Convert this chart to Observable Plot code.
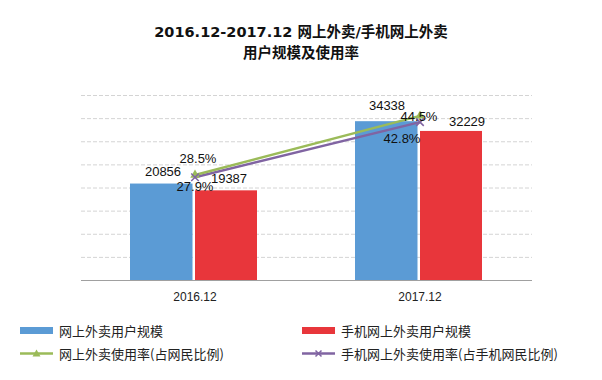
<!DOCTYPE html>
<html>
<head>
<meta charset="utf-8">
<script src="https://cdn.jsdelivr.net/npm/d3@7"></script>
<script src="https://cdn.jsdelivr.net/npm/@observablehq/plot@0.6"></script>
<style>
  html, body { margin: 0; padding: 0; background: #fff; }
  body { width: 602px; height: 380px; overflow: hidden; position: relative; font-family: "Liberation Sans", Arial, sans-serif; }
  #title { height: 62px; box-sizing: border-box; padding-top: 21px; text-align: center; font-family: "DejaVu Sans", "Noto Sans CJK SC", sans-serif; font-weight: bold; font-size: 14.5px; line-height: 19px; color: #111; }
  #title .cjk { font-family: "Noto Sans CJK SC", sans-serif; }
  #chart { height: 250px; }
  #chart svg { display: block; }
  #legend { position: relative; height: 68px; font-family: "Noto Sans CJK SC", sans-serif; font-size: 13px; color: #222; }
  .item { position: absolute; display: flex; align-items: center; height: 16px; }
  .item svg { display: block; margin-right: 6px; }
</style>
</head>
<body>
<div id="title">2016.12-2017.12 <span class="cjk">网上外卖</span>/<span class="cjk">手机网上外卖</span><br><span class="cjk">用户规模及使用率</span></div>
<div id="chart"></div>
<div id="legend"></div>
<script>
// ---- data ----
const categories = ["2016.12", "2017.12"];
const users = [20856, 34338];          // 网上外卖用户规模（万）
const mobileUsers = [19387, 32229];    // 手机网上外卖用户规模（万）
const rate = [28.5, 44.5];             // 网上外卖使用率 %
const mobileRate = [27.9, 42.8];       // 手机网上外卖使用率 %
const yTicks = [5000, 10000, 15000, 20000, 25000, 30000, 35000, 40000];
const yMax = 40000;
const rateMax = 50;

const seriesNames = ["网上外卖用户规模", "手机网上外卖用户规模", "网上外卖使用率(占网民比例)", "手机网上外卖使用率(占手机网民比例)"];
const colors = ["#5b9bd5", "#e8363b", "#9bbb59", "#8064a2"];

const r2y = v => v / rateMax * yMax;
const idx = categories.map((c, i) => i);

// per-point label offsets (styling only)
function labels(values, fmt, yfn, offsets) {
  return idx.map(i => Plot.text([i], {
    x: i2 => categories[i2],
    y: i2 => yfn(values[i2]),
    text: i2 => fmt(values[i2]),
    dx: offsets[i][0], dy: offsets[i][1],
    fontSize: 13, fill: "#111", fontFamily: "Liberation Sans, Arial, sans-serif"
  }));
}

const chart = Plot.plot({
  width: 602,
  height: 250,
  marginTop: 33,
  marginBottom: 32,
  marginLeft: 81,
  marginRight: 70,
  style: { background: "transparent", fontFamily: "Liberation Sans, Arial, sans-serif" },
  x: { type: "band", domain: categories, padding: 0 },
  y: { domain: [0, yMax], axis: null },
  marks: [
    Plot.ruleY(yTicks, { stroke: "#d4d4d4", strokeDasharray: "4,2" }),
    Plot.barY(idx, { x: i => categories[i], y: i => users[i], fill: colors[0], insetLeft: 48, insetRight: 114.5 }),
    Plot.barY(idx, { x: i => categories[i], y: i => mobileUsers[i], fill: colors[1], insetLeft: 113, insetRight: 50 }),
    Plot.ruleY([0], { stroke: "#a0a0a0", strokeWidth: 1.2 }),
    Plot.line(idx, { x: i => categories[i], y: i => r2y(mobileRate[i]), stroke: colors[3], strokeWidth: 2.5 }),
    Plot.line(idx, { x: i => categories[i], y: i => r2y(rate[i]), stroke: colors[2], strokeWidth: 2.5 }),
    Plot.dot(idx, { x: i => categories[i], y: i => r2y(rate[i]), symbol: "triangle", fill: colors[2], r: 3.5 }),
    Plot.dot(idx, { x: i => categories[i], y: i => r2y(mobileRate[i]), symbol: "times", stroke: colors[3], strokeWidth: 1.5, r: 3.5 }),
    ...labels(users, d => String(d), v => v, [[-32, -12], [-33, -16]]),
    ...labels(mobileUsers, d => String(d), v => v, [[34, -12], [47, -10]]),
    ...labels(rate, d => d.toFixed(1) + "%", r2y, [[3, -16], [-1, 1]]),
    ...labels(mobileRate, d => d.toFixed(1) + "%", r2y, [[0, 10], [-18, 17]]),
    Plot.axisX({ tickSize: 0, tickPadding: 12, fontSize: 12, label: null, fill: "#222" })
  ]
});
document.getElementById("chart").appendChild(chart);

// ---- legend ----
const legend = document.getElementById("legend");
const legendPos = [[20, 10], [302, 10], [20, 33], [302, 33]];
seriesNames.forEach((name, i) => {
  const item = document.createElement("div");
  item.className = "item";
  item.style.left = legendPos[i][0] + "px";
  item.style.top = legendPos[i][1] + "px";
  let sw;
  if (i < 2) {
    sw = `<svg width="33" height="16"><rect x="0" y="5" width="33" height="7" fill="${colors[i]}"/></svg>`;
  } else if (i === 2) {
    sw = `<svg width="33" height="16"><line x1="0" x2="33" y1="8.5" y2="8.5" stroke="${colors[i]}" stroke-width="2.5"/><path d="M16.5,4.5 L20.5,11.5 L12.5,11.5 Z" fill="${colors[i]}"/></svg>`;
  } else {
    sw = `<svg width="33" height="16"><line x1="0" x2="33" y1="8.5" y2="8.5" stroke="${colors[i]}" stroke-width="2.5"/><path d="M13.5,5.5 L19.5,11.5 M19.5,5.5 L13.5,11.5" stroke="${colors[i]}" stroke-width="1.5"/></svg>`;
  }
  item.innerHTML = sw + `<span>${name}</span>`;
  legend.appendChild(item);
});
</script>
</body>
</html>
